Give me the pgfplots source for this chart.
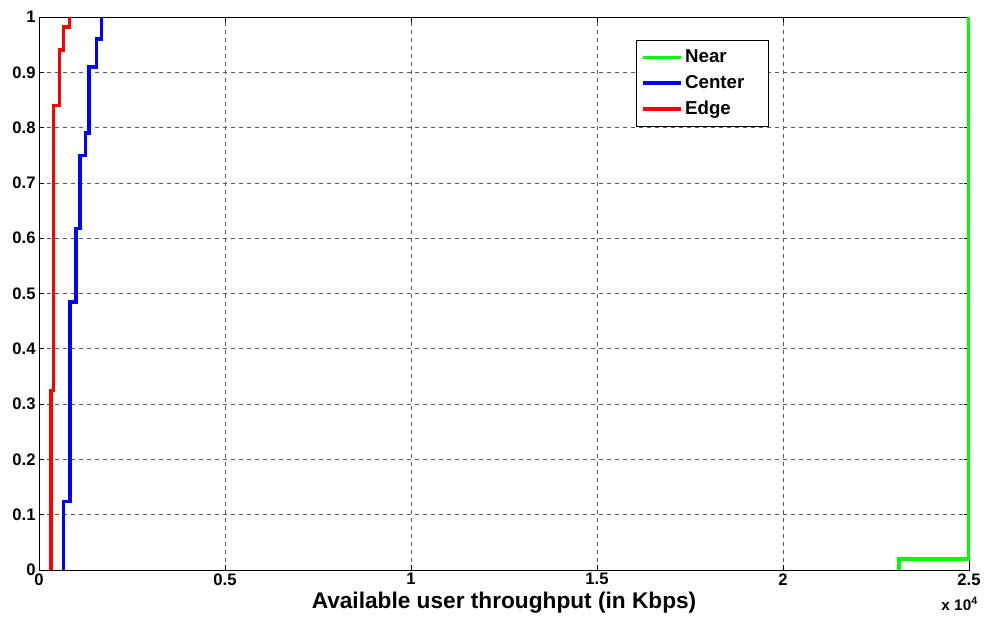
\documentclass[border=0pt]{standalone}
\usepackage{pgfplots}
\pgfplotsset{compat=1.18}
\usepackage{fontspec}
\setmainfont{Liberation Sans}
\definecolor{nearc}{RGB}{0,255,0}
\definecolor{centerc}{RGB}{0,0,255}
\definecolor{edgec}{RGB}{255,0,0}

\begin{document}
\begin{tikzpicture}
% page frame: 1px of the reference = 0.75pt
\useasboundingbox (-29.25pt,-36.75pt) rectangle (711.75pt,427.5pt);
\begin{axis}[
  at={(0,0)}, anchor=south west,
  scale only axis,
  width=697.5pt, height=414.75pt,
  xmin=0, xmax=25000, ymin=0, ymax=1,
  xtick={0,5000,10000,15000,20000,25000},
  xticklabels={0,0.5,1,1.5,2,2.5},
  scaled x ticks=false,
  ytick={0,0.1,0.2,0.3,0.4,0.5,0.6,0.7,0.8,0.9,1},
  yticklabels={0,0.1,0.2,0.3,0.4,0.5,0.6,0.7,0.8,0.9,1},
  tick align=inside,
  major tick length=4pt,
  tick style={black, line width=0.5pt},
  axis line style={black, line width=0.6pt},
  grid=major,
  major grid style={black!65, line width=0.5pt, dash pattern=on 3pt off 3pt},
  tick label style={font=\bfseries\fontsize{12.5}{14}\selectfont},
  /pgf/number format/assume math mode=true,
  xticklabel style={yshift=1pt},
  yticklabel style={xshift=1pt},
  xlabel={Available user throughput (in Kbps)},
  xlabel style={font=\bfseries\fontsize{17}{19}\selectfont, yshift=2pt},
  legend cell align=left,
  legend style={at={(rel axis cs:0.642,0.958)}, anchor=north west,
    draw=black, line width=0.5pt, font=\bfseries\fontsize{14}{16}\selectfont,
    inner xsep=4pt, inner ysep=5pt, row sep=4pt},
  legend image code/.code={\draw[#1, line width=2.6pt] (0pt,0pt) -- (28pt,0pt);},
  clip=false,
]
\addplot[nearc, line width=2.6pt, line join=miter] coordinates {
  (23120,0) (23120,0.02) (24980,0.02) (24980,1)
};
\addlegendentry{Near}
\addplot[centerc, line width=2.6pt, line join=miter] coordinates {
  (654,0) (654,0.1235) (833,0.1235) (833,0.485) (995,0.485) (995,0.618)
  (1102,0.618) (1102,0.75) (1254,0.75) (1254,0.79) (1344,0.79) (1344,0.91)
  (1551,0.91) (1551,0.96) (1685,0.96) (1685,1)
};
\addlegendentry{Center\hspace*{12pt}}
\addplot[edgec, line width=2.6pt, line join=miter] coordinates {
  (323,0) (323,0.325) (385,0.325) (385,0.84) (546,0.84) (546,0.94)
  (654,0.94) (654,0.982) (815,0.982) (815,1)
};
\addlegendentry{Edge}
\node[anchor=north, font=\bfseries\fontsize{11.5}{13}\selectfont, inner sep=0pt]
  at ([yshift=-20pt]rel axis cs:0.99,0) {x 10$^{\mathbf{4}}$};
\end{axis}
\end{tikzpicture}
\end{document}
